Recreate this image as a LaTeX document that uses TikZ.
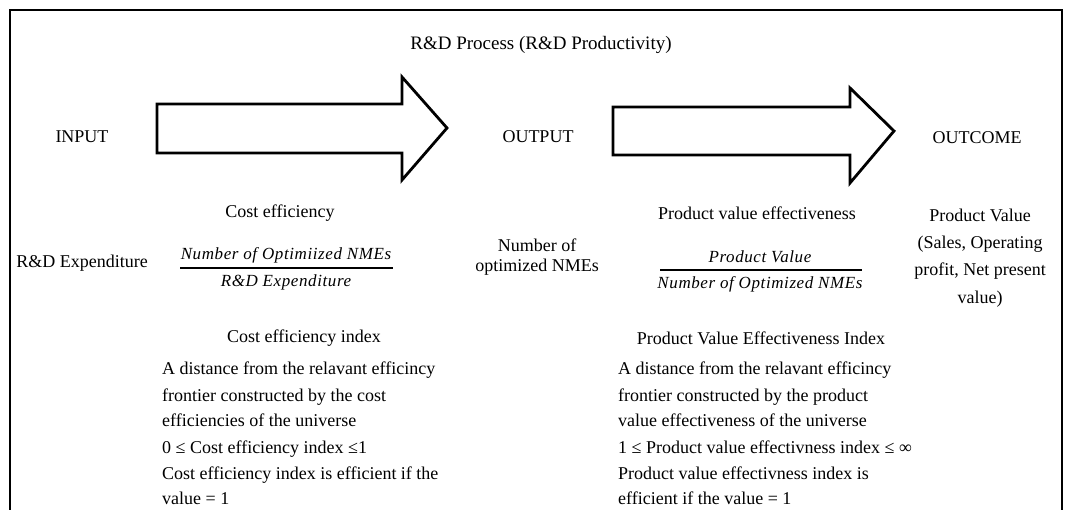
\documentclass[tikz,border=0pt]{standalone}
\usepackage{fontspec}
\setmainfont{Liberation Serif}
\newfontfamily\fracfont[LetterSpace=3.5]{Liberation Serif Italic}
\begin{document}
\begin{tikzpicture}[x=1pt,y=-1pt,
  txt/.style={inner sep=0pt, font=\fontsize{18}{26}\selectfont},
  ttl/.style={inner sep=0pt, font=\fontsize{19}{26}\selectfont},
  frc/.style={inner sep=0pt, font=\fontsize{17}{20}\fracfont},
  ln/.style={inner sep=0pt, anchor=base west, font=\fontsize{18}{26}\selectfont},
  bigarrow/.style={draw=black, line width=2.8pt, line join=miter, fill=white},
  frame/.style={draw=black, line width=1.3pt},
  bar/.style={draw=black, line width=1.3pt}]
\useasboundingbox (0,0) rectangle (1073,510);
% frame
\coordinate (fbl) at (10,511);
\coordinate (ftl) at (10,10);
\coordinate (ftr) at (1062,10);
\coordinate (fbr) at (1062,511);
\draw[frame] (fbl) -- (ftl) -- (ftr) -- (fbr);
% arrows
\draw[bigarrow] (157,104) -- (402,104) -- (402,77) -- (447,128) -- (402,180) -- (402,153) -- (157,153) -- cycle;
\draw[bigarrow] (613,107) -- (850,107) -- (850,88) -- (894,131) -- (850,183) -- (850,155) -- (613,155) -- cycle;
% headings
\node[ttl] (title) at (541,45) {R\&D Process (R\&D Productivity)};
\node[txt] (input) at (82,137) {INPUT};
\node[txt] (output) at (538,137) {OUTPUT};
\node[txt] (outcome) at (977,138) {OUTCOME};
% second row
\node[txt] (costeff) at (280,213) {Cost efficiency};
\node[txt] (pve) at (757,213) {Product value effectiveness};
\node[txt] (rde) at (82,263) {R\&D Expenditure};
\node[frc] (f1num) at (286,255) {Number of Optimiized NMEs};
\node[frc] (f1den) at (286,282) {R\&D Expenditure};
\coordinate (f1l) at (180,268);
\coordinate (f1r) at (393,268);
\draw[bar] (f1l) -- (f1r);
\node[txt, align=center, font=\fontsize{18}{20.5}\selectfont] (nmes) at (537,257) {Number of\\optimized NMEs};
\node[frc] (f2num) at (760,257) {Product Value};
\node[frc] (f2den) at (760,284) {Number of Optimized NMEs};
\coordinate (f2l) at (660,270);
\coordinate (f2r) at (862,270);
\draw[bar] (f2l) -- (f2r);
\node[txt, align=center, font=\fontsize{18}{27.3}\selectfont] (pv) at (980,258) {Product Value\\(Sales, Operating\\profit, Net present\\value)};
% lower left block
\node[txt] (cei) at (304,338) {Cost efficiency index};
\node[ln] (l1) at (162,374) {A distance from the relavant efficincy};
\node[ln] (l2) at (162,401) {frontier constructed by the cost};
\node[ln] (l3) at (162,426) {efficiencies of the universe};
\node[ln] (l4) at (162,453) {0 ≤ Cost efficiency index ≤1};
\node[ln] (l5) at (162,479) {Cost efficiency index is efficient if the};
\node[ln] (l6) at (162,504) {value = 1};
% lower right block
\node[txt] (pvei) at (761,338) {Product Value Effectiveness Index};
\node[ln] (r1) at (618,374) {A distance from the relavant efficincy};
\node[ln] (r2) at (618,401) {frontier constructed by the product};
\node[ln] (r3) at (618,426) {value effectiveness of the universe};
\node[ln] (r4) at (618,453) {1 ≤ Product value effectivness index ≤ ∞};
\node[ln] (r5) at (618,479) {Product value effectivness index is};
\node[ln] (r6) at (618,504) {efficient if the value = 1};
\end{tikzpicture}
\end{document}
